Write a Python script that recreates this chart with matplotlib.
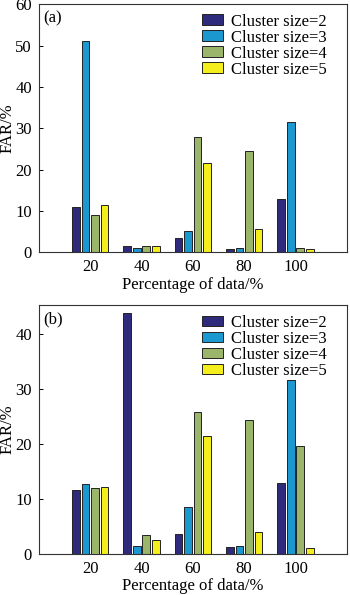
import numpy as np
import matplotlib
matplotlib.use('Agg')
import matplotlib.pyplot as plt

plt.rcParams['font.family'] = ['Liberation Serif', 'DejaVu Serif']
plt.rcParams['font.size'] = 12

pct = [20, 40, 60, 80, 100]
labels = ['Cluster size=2', 'Cluster size=3', 'Cluster size=4', 'Cluster size=5']
colors = ['#2e2a7c', '#1b98cf', '#9bb56b', '#f4ef1c']

far_a_2 = [11.0, 1.6, 3.5, 0.7, 12.9]
far_a_3 = [51.0, 1.0, 5.2, 1.1, 31.5]
far_a_4 = [9.0, 1.5, 27.8, 24.4, 1.1]
far_a_5 = [11.5, 1.4, 21.5, 5.6, 0.7]

far_b_2 = [11.7, 43.8, 3.6, 1.3, 13.0]
far_b_3 = [12.8, 1.4, 8.5, 1.4, 31.6]
far_b_4 = [12.1, 3.4, 25.8, 24.4, 19.6]
far_b_5 = [12.2, 2.6, 21.5, 4.0, 1.0]

fig = plt.figure(figsize=(3.5, 5.95), dpi=100)
ax_a = fig.add_axes([0.111, 0.576, 0.880, 0.417])
ax_b = fig.add_axes([0.111, 0.069, 0.880, 0.418])

def draw(ax, series, tag, ymax, yticks):
    x = np.array(pct, dtype=float)
    pitch = 3.7
    for i, (vals, lab, c) in enumerate(zip(series, labels, colors)):
        ax.bar(x + (i - 1.5) * pitch, vals, width=3.0, color=c,
               edgecolor='#222222', linewidth=0.7, label=lab)
    ax.set_xlim(0, 120)
    ax.set_ylim(0, ymax)
    ax.set_xticks(pct)
    ax.set_yticks(yticks)
    ax.tick_params(axis='y', direction='in', length=3, width=0.7, pad=5)
    ax.tick_params(axis='x', length=0, pad=5)
    ax.set_xlabel('Percentage of data/%', labelpad=1)
    ax.set_ylabel('FAR/%')
    ax.yaxis.set_label_coords(-0.075, 0.5)
    ax.text(0.014, 0.975, tag, transform=ax.transAxes, va='top', ha='left')
    for s in ax.spines.values():
        s.set_color('#333333')
        s.set_linewidth(0.8)
    ax.legend(loc='upper left', bbox_to_anchor=(0.529, 0.962), frameon=False,
              handlelength=1.26, handleheight=0.6, handletextpad=0.48,
              labelspacing=0.0, borderaxespad=0, borderpad=0, fontsize=12)

draw(ax_a, [far_a_2, far_a_3, far_a_4, far_a_5], '(a)', 60, [0, 10, 20, 30, 40, 50, 60])
draw(ax_b, [far_b_2, far_b_3, far_b_4, far_b_5], '(b)', 45.3, [0, 10, 20, 30, 40])

fig.savefig('out.png', dpi=100)
